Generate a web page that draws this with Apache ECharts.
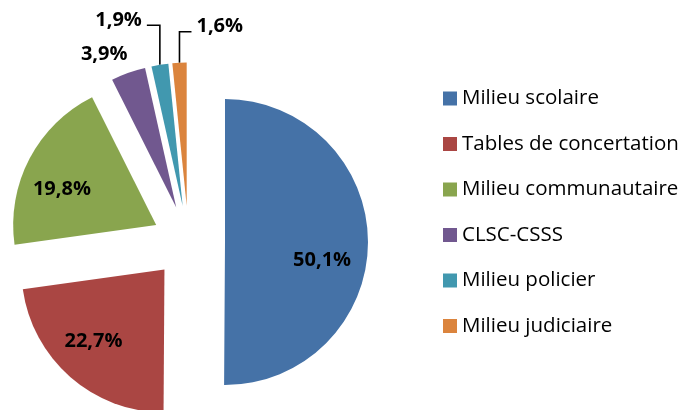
<!DOCTYPE html>
<html><head><meta charset="utf-8">
<script src="https://cdn.jsdelivr.net/npm/echarts@6/dist/echarts.min.js"></script>
<style>html,body{margin:0;padding:0;background:#fff}#c{width:700px;height:410px}</style>
</head><body><div id="c"></div>
<script>
const categories = ['Milieu scolaire', 'Tables de concertation', 'Milieu communautaire', 'CLSC-CSSS', 'Milieu policier', 'Milieu judiciaire'];
const values = [50.1, 22.7, 19.8, 3.9, 1.9, 1.6];
const colors = ['#4572A7', '#AA4643', '#89A54E', '#71588F', '#4198AF', '#DB843D'];

const CENTER = [188.5, 242];
const R = 143;
const OFFSET = 36.5;
const FONT = 'Open Sans';
const fmt = p => p.value.toFixed(1).replace('.', ',') + '%';

const labelBase = { fontFamily: FONT, fontWeight: 'bold', fontSize: 20, color: '#000', formatter: fmt };
// outside label setup for the small slices (by index)
const outside = {
  3: { length: 20, length2: 0, showLine: false, dx: 11, dy: 0 },
  4: { length: 40, length2: 13, dir: -1, dy: -5 },
  5: { length: 31, length2: 12, dir: 1, dy: -5 }
};
// small nudges of the inside labels
const insideNudge = { 0: [-6, 18], 1: [-3, -6], 2: [-3, 12] };

const mainData = categories.map((n, i) => {
  const o = outside[i];
  const item = { name: n, value: values[i], selected: true, itemStyle: { color: colors[i] } };
  if (o) {
    item.label = { show: true, position: 'outside' };
    item.labelLine = { show: o.showLine !== false, length: o.length, length2: o.length2 };
  } else {
    item.label = { show: false };
    item.labelLine = { show: false };
  }
  return item;
});
const overlayData = categories.map((n, i) => ({
  name: n, value: values[i], selected: true,
  label: { show: !outside[i] }
}));

const chart = echarts.init(document.getElementById('c'), null, { renderer: 'canvas' });
chart.setOption({
  animation: false,
  backgroundColor: '#fff',
  legend: {
    data: categories,
    orient: 'vertical',
    left: 438, top: 83,
    itemWidth: 14, itemHeight: 14, itemGap: 24.5,
    icon: 'rect',
    selectedMode: false,
    textStyle: { fontFamily: FONT, fontSize: 20.5, color: '#000' }
  },
  series: [
    {
      type: 'pie', center: CENTER, radius: [0, R], startAngle: 90, clockwise: true,
      selectedMode: 'multiple', selectedOffset: OFFSET, avoidLabelOverlap: false,
      emphasis: { disabled: true },
      label: labelBase,
      labelLine: { lineStyle: { color: '#000', width: 1.6 } },
      labelLayout: function (p) {
        const o = outside[p.dataIndex];
        if (!o) return {};
        const res = { dx: o.dx || 0, dy: o.dy || 0 };
        if (o.dir && p.labelLinePoints) {
          const pts = p.labelLinePoints;
          const p0 = pts[0], p2 = pts[2];
          const p1n = [p0[0], pts[1][1]];
          const p2n = [p0[0] + o.dir * o.length2, pts[1][1]];
          res.labelLinePoints = [p0, p1n, p2n];
          res.dx += o.dir < 0 ? (p2n[0] - p2[0]) : (p2n[0] + 5) - (p2[0] - 5 - p.labelRect.width);
        }
        return res;
      },
      data: mainData
    },
    {
      type: 'pie', center: CENTER, radius: [R * 0.4, R], startAngle: 90, clockwise: true,
      selectedMode: 'multiple', selectedOffset: OFFSET, avoidLabelOverlap: false,
      silent: true,
      emphasis: { disabled: true },
      itemStyle: { color: 'rgba(0,0,0,0)' },
      label: Object.assign({ position: 'inside' }, labelBase),
      labelLine: { show: false },
      labelLayout: function (p) {
        const n = insideNudge[p.dataIndex];
        return n ? { dx: n[0], dy: n[1] } : {};
      },
      data: overlayData
    }
  ]
});
</script>
</body></html>
